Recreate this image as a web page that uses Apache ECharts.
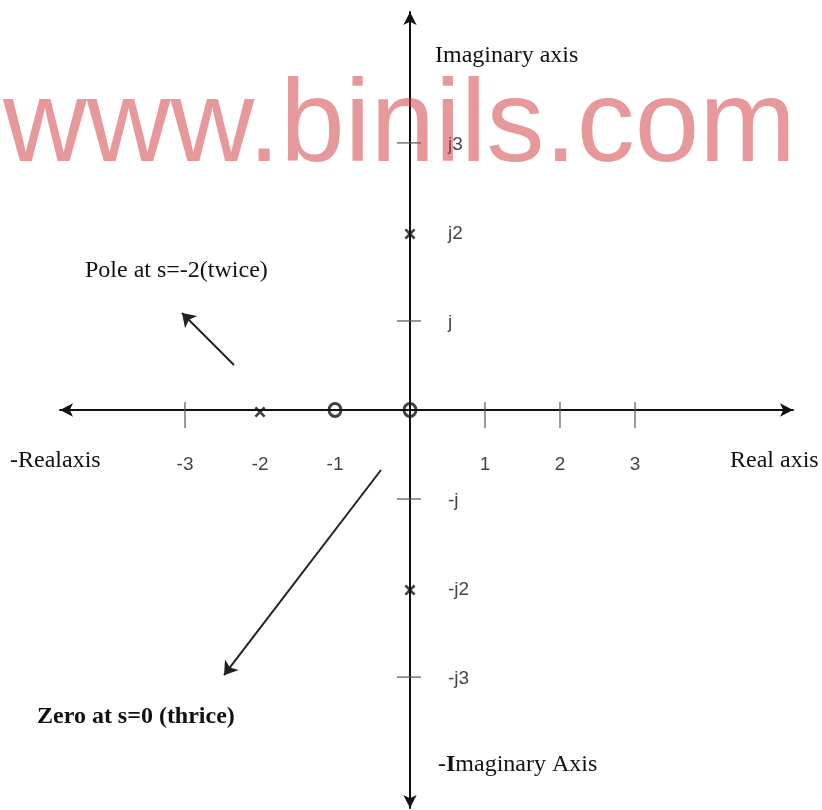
<!DOCTYPE html>
<html>
<head>
<meta charset="utf-8">
<script src="https://cdn.jsdelivr.net/npm/echarts@6/dist/echarts.min.js"></script>
<style>
  html, body { margin: 0; padding: 0; background: #fff; }
  #plane { width: 822px; height: 810px; }
</style>
</head>
<body>
<div id="plane"></div>
<script>
// poles (x) and zeros (o) as drawn on the s-plane
var poles = [[-2, 0], [0, 2], [0, -2]];
var zeros = [[-1, 0], [0, 0]];
// tick marks and tick labels
var realTicks = [-3, 1, 2, 3];
var realLabels = [-3, -2, -1, 1, 2, 3];
var imagTicks = [3, 1, -1, -3];
var imagLabels = [3, 2, 1, -1, -2, -3];

function imagText(v) {
	var s = v < 0 ? '-j' : 'j';
	var a = Math.abs(v);
	return a === 1 ? s : s + a;
}

var myChart = echarts.init(document.getElementById('plane'));
var serif = '"Liberation Serif", "DejaVu Serif", serif';
var sans = '"Liberation Sans", Arial, sans-serif';

var axisLineStyle = {
	onZero: true,
	symbol: ['arrow', 'arrow'],
	symbolSize: [10, 13],
	lineStyle: { color: '#111', width: 2 }
};

var option = {
	backgroundColor: '#fff',
	animation: false,
	grid: { left: 60, right: 29, top: 12, bottom: 2, containLabel: false, outerBoundsMode: 'none' },
	xAxis: {
		type: 'value',
		min: -4.667,
		max: 5.107,
		splitLine: { show: false },
		axisTick: { show: false },
		axisLabel: { show: false },
		axisLine: axisLineStyle
	},
	yAxis: {
		type: 'value',
		min: -4.47,
		max: 4.47,
		splitLine: { show: false },
		axisTick: { show: false },
		axisLabel: { show: false },
		axisLine: axisLineStyle
	},
	series: [
		{
			// tick marks across the real axis
			type: 'scatter',
			symbol: 'rect',
			symbolSize: [1.5, 26],
			symbolOffset: [0, 5],
			itemStyle: { color: '#555' },
			data: realTicks.map(function (v) { return [v, 0]; }),
			silent: true,
			markLine: {
				silent: true,
				symbol: ['none', 'arrow'],
				symbolSize: 13,
				label: { show: false },
				lineStyle: { color: '#222', width: 2, type: 'solid' },
				data: [
					[{ coord: [-2.347, 0.506] }, { coord: [-3.04, 1.09] }],
					[{ coord: [-0.387, -0.674] }, { coord: [-2.48, -2.978] }]
				]
			}
		},
		{
			// tick marks across the imaginary axis
			type: 'scatter',
			symbol: 'rect',
			symbolSize: [24, 1.5],
			symbolOffset: [-1, 0],
			itemStyle: { color: '#555' },
			data: imagTicks.map(function (v) { return [0, v]; }),
			silent: true
		},
		{
			// real axis numbers under the line
			type: 'scatter',
			symbolSize: 1,
			itemStyle: { color: 'rgba(0,0,0,0)' },
			silent: true,
			data: realLabels.map(function (v) { return [v, 0]; }),
			label: {
				show: true,
				position: 'inside',
				offset: [0, 55],
				align: 'center',
				verticalAlign: 'middle',
				color: '#111',
				fontSize: 19,
				fontFamily: sans,
				formatter: function (p) { return String(p.value[0]); }
			}
		},
		{
			// imaginary axis labels to the right of the line
			type: 'scatter',
			symbolSize: 1,
			itemStyle: { color: 'rgba(0,0,0,0)' },
			silent: true,
			data: imagLabels.map(function (v) { return [0, v]; }),
			label: {
				show: true,
				position: 'inside',
				offset: [38, 2],
				align: 'left',
				verticalAlign: 'middle',
				color: '#111',
				fontSize: 19,
				fontFamily: sans,
				formatter: function (p) { return imagText(p.value[1]); }
			}
		},
		{
			name: 'Pole',
			type: 'scatter',
			symbol: 'path://M0,1.7L1.7,0L5,3.3L8.3,0L10,1.7L6.7,5L10,8.3L8.3,10L5,6.7L1.7,10L0,8.3L3.3,5Z',
			symbolSize: [11, 11],
			symbolOffset: [0, 2],
			itemStyle: { color: '#111' },
			data: poles,
			z: 5
		},
		{
			name: 'Zero',
			type: 'scatter',
			symbol: 'circle',
			symbolSize: [12, 13],
			itemStyle: { color: 'rgba(0,0,0,0)', borderColor: '#111', borderWidth: 3 },
			data: zeros,
			z: 5
		}
	],
	graphic: [
		{ type: 'text', left: 435, top: 44, style: { text: 'Imaginary axis', font: '24px ' + serif, fill: '#111' } },
		{ type: 'text', left: 85, top: 259, style: { text: 'Pole at s=-2(twice)', font: '24px ' + serif, fill: '#111' } },
		{ type: 'text', left: 10, top: 449, style: { text: '-Realaxis', font: '24px ' + serif, fill: '#111' } },
		{ type: 'text', left: 730, top: 449, style: { text: 'Real axis', font: '24px ' + serif, fill: '#111' } },
		{ type: 'text', left: 37, top: 705, style: { text: 'Zero at s=0 (thrice)', font: 'bold 24px ' + serif, fill: '#111' } },
		{
			type: 'text', left: 438, top: 753,
			style: {
				text: '-{b|I}maginary Axis',
				font: '24px ' + serif,
				fill: '#111',
				rich: { b: { fontWeight: 'bold', fontSize: 24, fontFamily: serif, fill: '#111' } }
			}
		},
		{
			// site watermark across the top
			type: 'text', z: 100, silent: true,
			style: {
				text: 'www.binils.com',
				x: 3, y: 129,
				textVerticalAlign: 'middle',
				font: '116px ' + sans,
				fill: 'rgba(205,50,55,0.5)'
			}
		}
	]
};
myChart.setOption(option);
</script>
</body>
</html>
